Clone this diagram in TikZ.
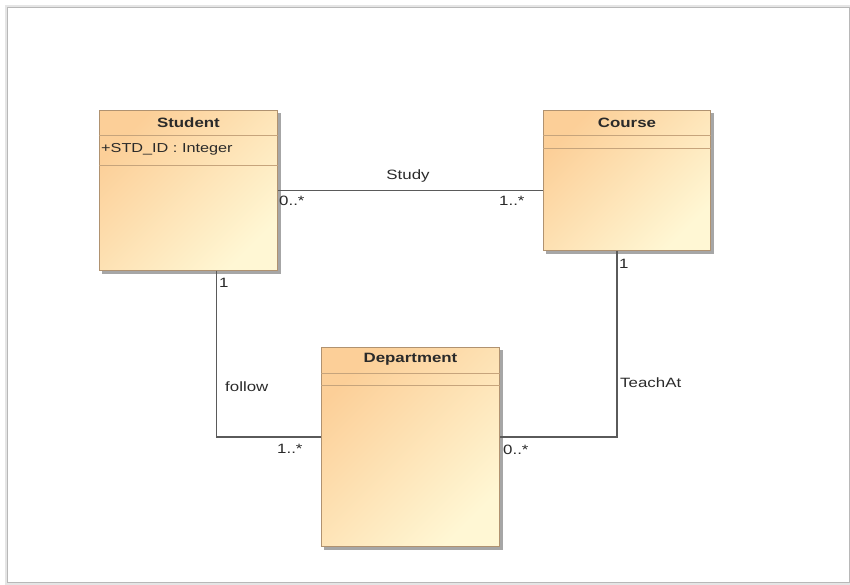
\documentclass[tikz,border=0pt]{standalone}
\usepackage{fontspec}
\setmainfont{Liberation Sans}[FakeStretch=1.25]
\usetikzlibrary{calc}
\definecolor{classTop}{HTML}{FCCF98}
\definecolor{classBot}{HTML}{FFF7D4}
\definecolor{classEdge}{HTML}{B09270}
\definecolor{classRule}{HTML}{C6A47C}
\definecolor{wire}{HTML}{5A5A5A}
\definecolor{ink}{HTML}{2A2A2A}
\tikzset{
  umlclass/.style={rectangle, draw=classEdge, line width=0.9pt, inner sep=0pt,
    anchor=north west, top color=classTop, bottom color=classBot, shading angle=45},
  classshadow/.style={fill=black!35, draw=none},
  classrule/.style={draw=classRule, line width=0.9pt},
  classname/.style={font=\fontsize{13.5}{15}\selectfont\bfseries, text=ink, inner sep=0pt},
  attr/.style={font=\fontsize{13}{15}\selectfont, text=ink, inner sep=0pt, anchor=west},
  assoc/.style={draw=wire, line width=1.1pt},
  lbl/.style={font=\fontsize{13.5}{15}\selectfont, text=ink, inner sep=0pt, anchor=west}
}
\begin{document}
\begin{tikzpicture}[x=1pt,y=-1pt]
\useasboundingbox (0,0) rectangle (850,585);
% page background with soft frame
\fill[white] (0,0) rectangle (850,585);
\draw[black!10, line width=3pt] (6,7) rectangle (849,583);
\draw[black!28, line width=1pt] (7,8) rectangle (849,582);
\fill[white] (7.5,8.5) rectangle (848.5,581.5);

% shadows of the class boxes
\fill[classshadow] (102,113) rectangle (281,274);
\fill[classshadow] (546,113) rectangle (714,254);
\fill[classshadow] (324,350) rectangle (503,550);

% classes
\node[umlclass, minimum width=178pt, minimum height=160pt] (student) at (99,110) {};
\node[umlclass, minimum width=167pt, minimum height=140pt] (course) at (543,110) {};
\node[umlclass, minimum width=178pt, minimum height=199pt] (dept) at (321,347) {};

% compartment rules
\draw[classrule] ($(student.north west)+(0,25)$) -- ($(student.north east)+(0,25)$);
\draw[classrule] ($(student.north west)+(0,55)$) -- ($(student.north east)+(0,55)$);
\draw[classrule] ($(course.north west)+(0,25)$) -- ($(course.north east)+(0,25)$);
\draw[classrule] ($(course.north west)+(0,38)$) -- ($(course.north east)+(0,38)$);
\draw[classrule] ($(dept.north west)+(0,26)$) -- ($(dept.north east)+(0,26)$);
\draw[classrule] ($(dept.north west)+(0,38)$) -- ($(dept.north east)+(0,38)$);

% class names and attributes
\node[classname] (studentName) at ($(student.north)+(0,12.5)$) {Student};
\node[attr] (studentAttr) at ($(student.north west)+(2,39)$) {+STD\_ID : Integer};
\node[classname] (courseName) at ($(course.north)+(0,12.5)$) {Course};
\node[classname] (deptName) at ($(dept.north)+(0,12.5)$) {Department};

% associations
\coordinate (followTop) at ($(student.south)+(28,0)$);
\coordinate (followEnd) at ($(dept.west)+(0,-10)$);
\coordinate (teachTop) at ($(course.south)+(-10,0)$);
\coordinate (teachEnd) at ($(dept.east)+(0,-10)$);
\draw[assoc] (student.east) -- (student.east -| course.west);
\draw[assoc] (followTop) |- (followEnd);
\draw[assoc] (teachTop) |- (teachEnd);

% association names and multiplicities
\node[lbl, anchor=center] (studyName) at (408,176) {Study};
\node[lbl] (studyA) at (279,201) {0..*};
\node[lbl] (studyB) at (499,201) {1..*};
\node[lbl] (followA) at (219,283) {1};
\node[lbl] (followName) at (225,387) {follow};
\node[lbl] (followB) at (277,449) {1..*};
\node[lbl] (teachA) at (619,264) {1};
\node[lbl] (teachName) at (620,383) {TeachAt};
\node[lbl] (teachB) at (503,450) {0..*};
\end{tikzpicture}
\end{document}
